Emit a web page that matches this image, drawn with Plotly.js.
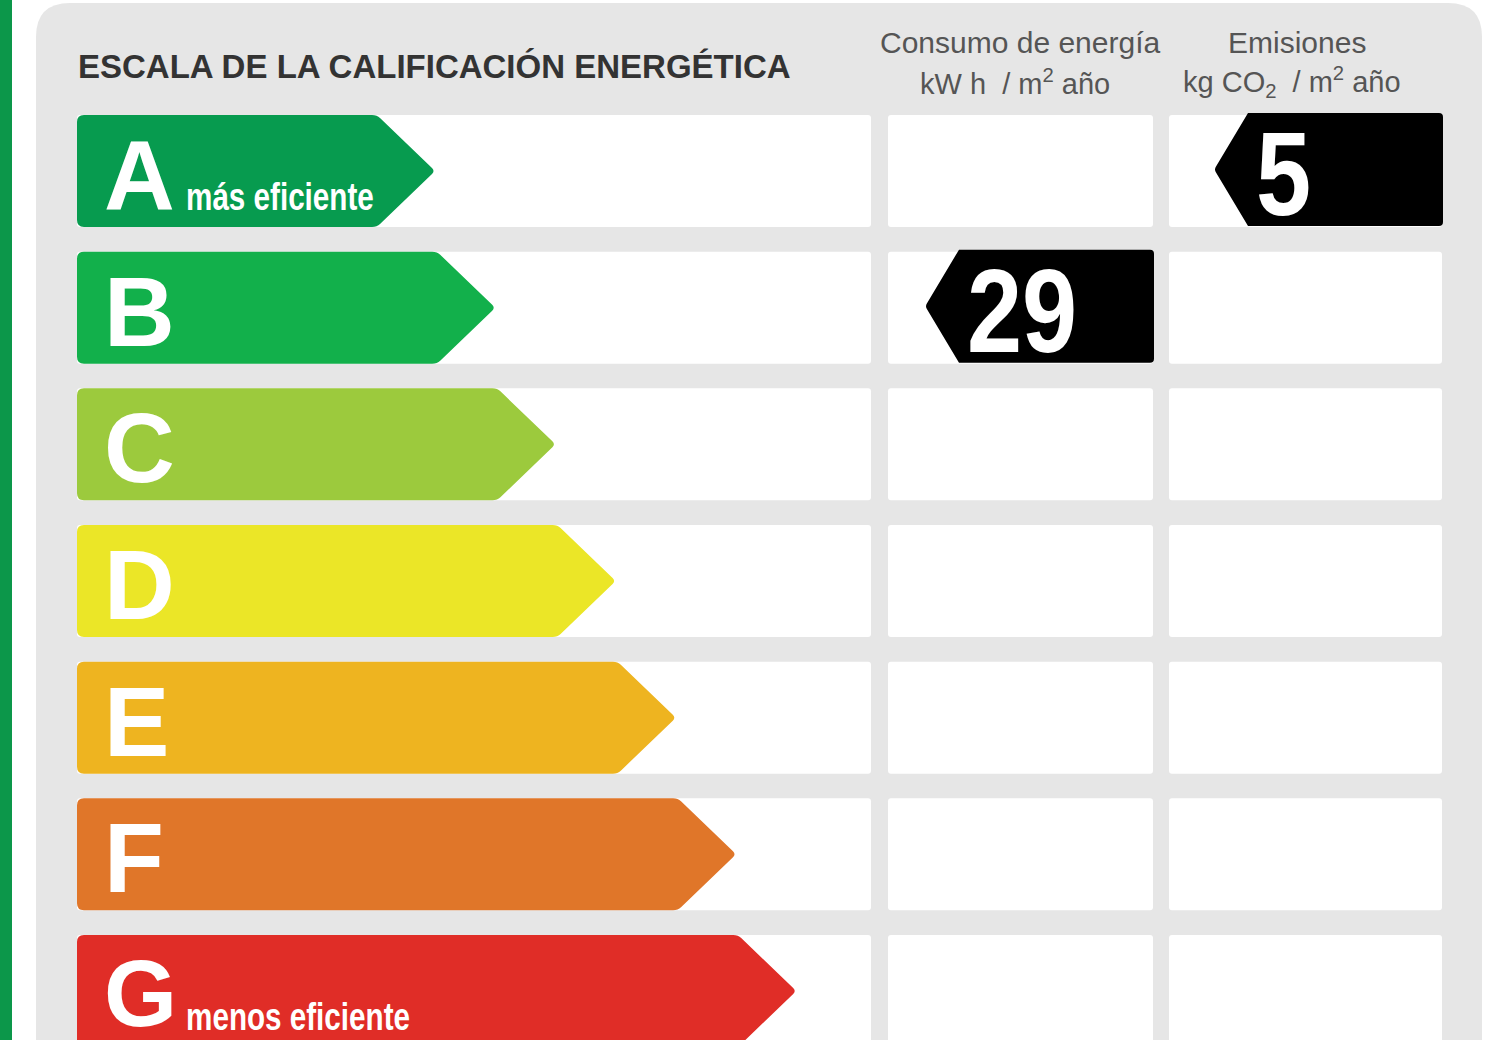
<!DOCTYPE html>
<html>
<head>
<meta charset="utf-8">
<script src="https://cdn.plot.ly/plotly-3.0.1.min.js"></script>
<style>
html,body{margin:0;padding:0;background:#fff;}
#chart{width:1500px;height:1040px;}
.narrow-text{transform-box:fill-box;transform-origin:left center;}
</style>
</head>
<body>
<div id="chart"></div>
<script>
// ---- data ----
const grades = ['A', 'B', 'C', 'D', 'E', 'F', 'G'];
const gradeNotes = ['más eficiente', '', '', '', '', '', 'menos eficiente'];
const chartTitle = 'ESCALA DE LA CALIFICACIÓN ENERGÉTICA';
const columnTitles = ['Consumo de energía', 'Emisiones'];
const columnUnits = ['kW h  / m<sup>2</sup> año', 'kg CO<sub>2</sub>  / m<sup>2</sup> año'];
const ratingGrades = ['B', 'A'];
const ratingValues = [29, 5];

// ---- style ----
const gradeColors = ['#079b4f', '#12b04b', '#9cca3d', '#ebe627', '#eeb420', '#e07629', '#e02d27'];
const panelColor = '#e6e6e6';
const stripeColor = '#0c974a';

// ---- layout geometry ----
const rowTop0 = 115, rowPitch = 136.67, rowH = 112;
const arrowLeft = 77, tip0 = 435, tipStep = 60.2, shoulder = 58;
const cols = [[77, 871], [888, 1153], [1169, 1442]];
const markerW = 229, markerShoulder = 34;

function rrect(x0, y0, x1, y1, r) {
  return `M${x0 + r},${y0} L${x1 - r},${y0} Q${x1},${y0} ${x1},${y0 + r} L${x1},${y1 - r} Q${x1},${y1} ${x1 - r},${y1} L${x0 + r},${y1} Q${x0},${y1} ${x0},${y1 - r} L${x0},${y0 + r} Q${x0},${y0} ${x0 + r},${y0} Z`;
}
function arrowPath(x0, y0, y1, t) {
  const r = 7, s = t - shoulder, ym = (y0 + y1) / 2;
  return `M${x0 + r},${y0} L${s - 5},${y0} Q${s},${y0} ${s + 3},${y0 + 3} L${t - 3},${ym - 3} Q${t},${ym} ${t - 3},${ym + 3} L${s + 3},${y1 - 3} Q${s},${y1} ${s - 5},${y1} L${x0 + r},${y1} Q${x0},${y1} ${x0},${y1 - r} L${x0},${y0 + r} Q${x0},${y0} ${x0 + r},${y0} Z`;
}
function markerPath(R, y0, y1) {
  const L = R - markerW + markerShoulder, T = R - markerW, ym = (y0 + y1) / 2, r = 4;
  return `M${R - r},${y0} Q${R},${y0} ${R},${y0 + r} L${R},${y1 - r} Q${R},${y1} ${R - r},${y1} L${L},${y1} L${T + 2},${ym + 3} Q${T},${ym} ${T + 2},${ym - 3} L${L},${y0} Z`;
}

const shapes = [];
const annotations = [];
const base = {xref: 'x', yref: 'y', type: 'path', line: {width: 0}, layer: 'below'};

// left stripe and panel
shapes.push(Object.assign({}, base, {type: 'rect', x0: 0, x1: 12, y0: 0, y1: 1040, fillcolor: stripeColor}));
shapes.push(Object.assign({}, base, {path: rrect(36, 3, 1482, 1120, 34), fillcolor: panelColor}));

const fontBold = 'Liberation Sans, Arial, sans-serif';
const narrowScale = {};

grades.forEach((g, i) => {
  const y0 = rowTop0 + i * rowPitch, y1 = y0 + rowH, ym = (y0 + y1) / 2;
  cols.forEach(c => shapes.push(Object.assign({}, base, {path: rrect(c[0], y0, c[1], y1, 3), fillcolor: '#ffffff'})));
  shapes.push(Object.assign({}, base, {path: arrowPath(arrowLeft, y0, y1, tip0 + i * tipStep), fillcolor: gradeColors[i]}));
  annotations.push({xref: 'x', yref: 'y', x: 102, y: ym + (i === 6 ? 2 : 4), xanchor: 'left', yanchor: 'middle', showarrow: false,
    text: '<b>' + g + '</b>', font: {family: fontBold, size: i === 6 ? 94 : 98, color: '#ffffff'}});
  if (gradeNotes[i]) {
    narrowScale[gradeNotes[i]] = 0.78;
    annotations.push({xref: 'x', yref: 'y', x: 184, y: y0 + 82, xanchor: 'left', yanchor: 'middle', showarrow: false,
      text: '<b>' + gradeNotes[i] + '</b>', font: {family: fontBold, size: 38, color: '#ffffff'}});
  }
});

// rating markers
ratingGrades.forEach((g, k) => {
  const i = grades.indexOf(g);
  const y0 = rowTop0 + i * rowPitch, y1 = y0 + rowH, ym = (y0 + y1) / 2;
  const R = cols[k + 1][1] + 1;
  shapes.push(Object.assign({}, base, {path: markerPath(R, y0 - 2, y1 - 1), fillcolor: '#000000', layer: 'above'}));
  narrowScale[String(ratingValues[k])] = 0.84;
  annotations.push({xref: 'x', yref: 'y', x: R - markerW + markerShoulder + 6, y: ym + 3, xanchor: 'left', yanchor: 'middle', showarrow: false,
    text: '<b>' + ratingValues[k] + '</b>', font: {family: fontBold, size: 118, color: '#ffffff'}});
});

// titles
annotations.push({xref: 'x', yref: 'y', x: 76, y: 66, xanchor: 'left', yanchor: 'middle', showarrow: false,
  text: '<b>' + chartTitle + '</b>', font: {family: fontBold, size: 33, color: '#333333'}});
const headCenters = [1020, 1297];
columnTitles.forEach((t, k) => {
  annotations.push({xref: 'x', yref: 'y', x: headCenters[k], y: 42, xanchor: 'center', yanchor: 'middle', showarrow: false,
    text: t, font: {family: 'Liberation Sans, Arial, sans-serif', size: 30, color: '#555555'}});
  annotations.push({xref: 'x', yref: 'y', x: headCenters[k] - 5, y: 82, xanchor: 'center', yanchor: 'middle', showarrow: false,
    text: columnUnits[k], font: {family: 'Liberation Sans, Arial, sans-serif', size: 29, color: '#555555'}});
});

const layout = {
  width: 1500, height: 1040,
  margin: {l: 0, r: 0, t: 0, b: 0, pad: 0},
  paper_bgcolor: '#ffffff', plot_bgcolor: '#ffffff',
  showlegend: false,
  xaxis: {range: [0, 1500], visible: false, fixedrange: true, showgrid: false, zeroline: false},
  yaxis: {range: [1040, 0], visible: false, fixedrange: true, showgrid: false, zeroline: false},
  shapes: shapes,
  annotations: annotations
};

Plotly.newPlot('chart', [], layout, {displayModeBar: false, staticPlot: true}).then(gd => {
  gd.querySelectorAll('text.annotation-text').forEach(t => {
    const s = narrowScale[t.textContent];
    if (s) {
      t.classList.add('narrow-text');
      t.style.transform = 'scaleX(' + s + ')';
    }
  });
});
</script>
</body>
</html>
